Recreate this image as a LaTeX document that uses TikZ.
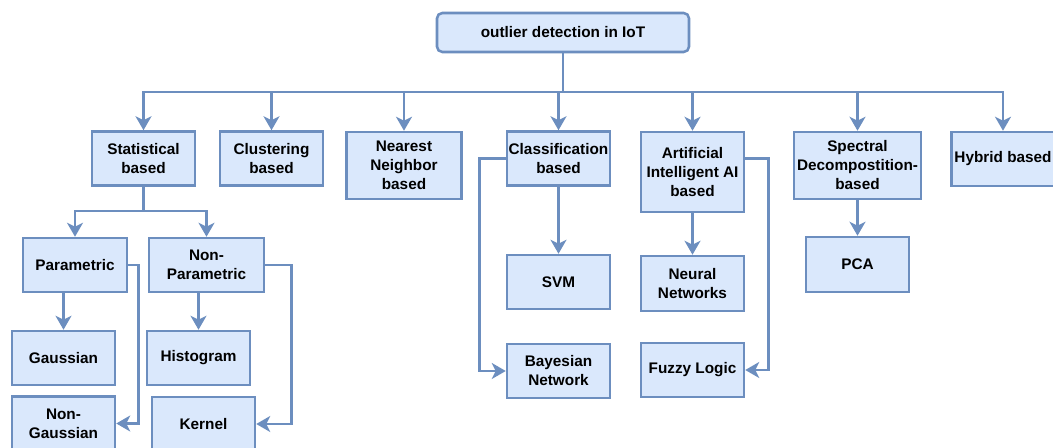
\documentclass[tikz,border=0pt]{standalone}
\usepackage{fontspec}
\setmainfont{Liberation Sans}
\usetikzlibrary{arrows.meta}
\definecolor{boxfill}{HTML}{DAE8FC}
\definecolor{boxline}{HTML}{6C8EBF}
\begin{document}
\begin{tikzpicture}[x=0.75pt, y=-0.75pt,
	box/.style = {draw=boxline, fill=boxfill, line width=1.9pt, align=center, inner sep=0pt,
		minimum width=77.25pt, minimum height=40.5pt,
		font=\bfseries\fontsize{11.5}{14.25}\selectfont},
	link/.style = {draw=boxline, line width=1.9pt},
	arr/.style = {link, -{Stealth[length=10.5pt, width=12pt, inset=3pt]}}]

	\clip (0,0) rectangle (1053,448);
	\fill[white] (0,0) rectangle (1053,448);

	% top level
	\node[box, rounded corners=4pt, minimum width=189pt, minimum height=29.25pt] (root) at (563,32.5) {outlier detection in IoT};

	\node[box] (stat) at (143.5,158.5) {Statistical\\based};
	\node[box] (clus) at (271.5,158.5) {Clustering\\based};
	\node[box, minimum width=86.25pt, minimum height=50.25pt] (nn) at (404,165.5) {Nearest\\Neighbor\\based};
	\node[box] (cls) at (558.5,158.5) {Classification\\based};
	\node[box, minimum height=60pt] (ai) at (692.5,172) {Artificial\\Intelligent AI\\based};
	\node[box, minimum width=95.25pt, minimum height=50.25pt] (spec) at (857.5,165.5) {Spectral\\Decompostition-\\based};
	\node[box] (hyb) at (1003,159) {Hybrid based};

	% second level
	\node[box, minimum width=78pt] (par) at (75,265) {Parametric};
	\node[box, minimum width=86.25pt] (npar) at (206.5,265) {Non-\\Parametric};
	\node[box] (gau) at (63.5,358) {Gaussian};
	\node[box] (ngau) at (63.5,423.5) {Non-\\Gaussian};
	\node[box] (hist) at (198.5,358) {Histogram};
	\node[box] (kern) at (203.5,424) {Kernel};

	\node[box] (svm) at (558.5,282) {SVM};
	\node[box] (bay) at (558.5,371) {Bayesian\\Network};
	\node[box, minimum height=41.25pt] (nnet) at (692.5,283.5) {Neural\\Networks};
	\node[box] (fuz) at (692.5,370) {Fuzzy Logic};
	\node[box, minimum height=41.25pt] (pca) at (857.5,264.5) {PCA};

	% connectors
	\coordinate (bus) at (563,92);
	\draw[link] (root) -- (bus);
	\foreach \n in {stat,clus,nn,cls,ai,spec,hyb}
		\draw[arr] (bus) -| (\n);

	\coordinate (statsplit) at (143.5,211);
	\draw[link] (stat) -- (statsplit);
	\draw[arr] (statsplit) -| (par);
	\draw[arr] (statsplit) -| (npar);

	\draw[arr] (gau.north |- par.south) -- (gau);
	\draw[arr] (par.east) -- ++(10,0) |- (ngau.east);
	\draw[arr] (hist.north |- npar.south) -- (hist);
	\draw[arr] (npar.east) -- ++(26,0) |- (kern.east);

	\draw[arr] (cls) -- (svm);
	\draw[arr] (cls.west) -- ++(-26,0) |- (bay.west);
	\draw[arr] (ai) -- (nnet);
	\draw[arr] (ai.east |- cls.west) -- ++(23,0) |- (fuz.east);
	\draw[arr] (spec) -- (pca);
\end{tikzpicture}
\end{document}
